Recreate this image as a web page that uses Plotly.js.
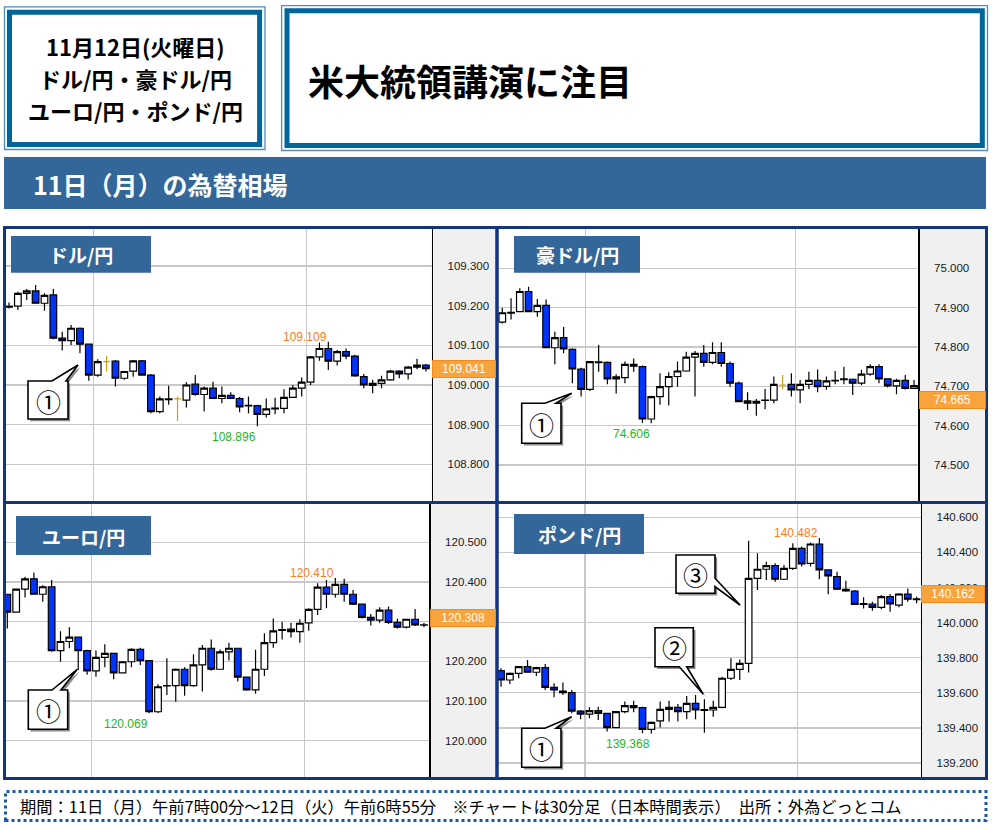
<!DOCTYPE html>
<html><head><meta charset="utf-8">
<script src="https://cdn.plot.ly/plotly-3.0.1.min.js"></script>
<style>html,body{margin:0;padding:0;background:#fff;}#chart{width:992px;height:825px;}</style>
</head><body><div id="chart"></div>
<script>
// ---------- data ----------
const times = ["07:00","07:30","08:00","08:30","09:00","09:30","10:00","10:30","11:00","11:30","12:00","12:30",
"13:00","13:30","14:00","14:30","15:00","15:30","16:00","16:30","17:00","17:30","18:00","18:30",
"19:00","19:30","20:00","20:30","21:00","21:30","22:00","22:30","23:00","23:30","00:00","00:30",
"01:00","01:30","02:00","02:30","03:00","03:30","04:00","04:30","05:00","05:30","06:00","06:30"];

const pairNames = ["ドル/円","豪ドル/円","ユーロ/円","ポンド/円"];
const lastPrices = [109.041, 74.665, 120.308, 140.162];
const highMarks = [109.109, null, 120.410, 140.482];
const lowMarks = [108.896, 74.606, 120.069, 139.368];

const usdOpen = [109.196,109.199,109.231,109.237,109.206,109.227,109.118,109.112,109.143,109.103,109.025,109.059,109.060,109.017,109.035,109.061,109.025,108.933,108.963,108.965,108.962,109.002,108.976,108.992,108.966,108.974,108.966,108.949,108.948,108.926,108.940,108.941,108.969,108.992,109.007,109.071,109.092,109.060,109.084,109.073,109.021,108.999,109.004,109.013,109.035,109.028,109.045,109.050];
const usdHigh = [109.208,109.235,109.242,109.252,109.231,109.242,109.134,109.151,109.145,109.104,109.065,109.074,109.063,109.036,109.063,109.063,109.028,108.971,108.998,108.971,109.007,109.025,108.996,109.008,108.996,108.982,108.970,108.971,108.950,108.966,108.968,108.989,109.000,109.019,109.073,109.107,109.109,109.088,109.092,109.076,109.028,109.013,109.023,109.038,109.037,109.048,109.066,109.053];
const usdLow = [109.193,109.189,109.214,109.205,109.187,109.115,109.087,109.101,109.080,109.011,109.021,109.034,108.996,109.013,109.021,109.024,108.929,108.929,108.950,108.909,108.943,108.973,108.933,108.966,108.954,108.965,108.931,108.929,108.896,108.918,108.926,108.929,108.968,108.971,109.000,109.061,109.038,109.049,109.065,109.021,108.992,108.979,108.992,109.011,109.017,109.014,109.040,109.034];
const usdClose = [109.198,109.231,109.237,109.206,109.226,109.118,109.112,109.143,109.103,109.025,109.059,109.059,109.017,109.034,109.061,109.025,108.933,108.965,108.965,108.965,109.000,108.976,108.992,108.966,108.974,108.966,108.945,108.947,108.926,108.940,108.942,108.969,108.992,109.007,109.071,109.092,109.060,109.084,109.073,109.023,109.000,109.004,109.013,109.035,109.028,109.045,109.050,109.041];

const audOpen = [74.863,74.886,74.890,74.941,74.890,74.906,74.798,74.824,74.794,74.744,74.692,74.760,74.761,74.719,74.722,74.756,74.750,74.617,74.674,74.699,74.725,74.739,74.774,74.784,74.761,74.786,74.758,74.708,74.663,74.657,74.664,74.665,74.703,74.705,74.691,74.705,74.715,74.700,74.714,74.717,74.718,74.708,74.731,74.750,74.719,74.701,74.715,74.695];
const audHigh = [74.900,74.924,74.949,74.953,74.922,74.921,74.839,74.851,74.797,74.747,74.764,74.805,74.763,74.731,74.763,74.771,74.753,74.676,74.733,74.736,74.763,74.788,74.790,74.805,74.812,74.812,74.763,74.712,74.685,74.668,74.693,74.725,74.729,74.733,74.716,74.737,74.743,74.725,74.739,74.750,74.720,74.742,74.756,74.756,74.720,74.719,74.729,74.716];
const audLow = [74.860,74.870,74.888,74.890,74.877,74.797,74.756,74.784,74.708,74.674,74.688,74.737,74.705,74.682,74.708,74.737,74.607,74.606,74.653,74.651,74.699,74.737,74.674,74.750,74.756,74.750,74.699,74.661,74.640,74.625,74.642,74.657,74.693,74.674,74.657,74.693,74.685,74.691,74.705,74.705,74.678,74.703,74.727,74.708,74.697,74.680,74.692,74.693];
const audClose = [74.887,74.888,74.941,74.890,74.906,74.798,74.824,74.795,74.744,74.692,74.763,74.762,74.719,74.724,74.756,74.751,74.617,74.674,74.699,74.725,74.739,74.774,74.784,74.761,74.786,74.758,74.708,74.661,74.657,74.662,74.665,74.705,74.703,74.691,74.705,74.715,74.699,74.714,74.715,74.719,74.708,74.731,74.750,74.719,74.701,74.715,74.695,74.702];

const eurOpen = [120.369,120.324,120.382,120.408,120.369,120.388,120.227,120.250,120.261,120.227,120.176,120.210,120.220,120.171,120.199,120.230,120.202,120.073,120.138,120.139,120.180,120.139,120.191,120.233,120.180,120.224,120.233,120.160,120.128,120.180,120.247,120.278,120.281,120.275,120.297,120.331,120.387,120.369,120.394,120.369,120.344,120.311,120.304,120.329,120.298,120.286,120.306,120.291];
const eurHigh = [120.369,120.383,120.413,120.424,120.392,120.405,120.276,120.286,120.262,120.229,120.227,120.243,120.221,120.201,120.233,120.234,120.203,120.142,120.208,120.182,120.185,120.218,120.241,120.255,120.230,120.247,120.234,120.161,120.229,120.271,120.308,120.300,120.297,120.306,120.334,120.397,120.405,120.410,120.408,120.380,120.344,120.319,120.336,120.338,120.307,120.307,120.332,120.297];
const eurLow = [120.283,120.323,120.361,120.368,120.350,120.224,120.199,120.233,120.178,120.166,120.161,120.185,120.155,120.170,120.185,120.191,120.069,120.070,120.115,120.098,120.113,120.136,120.124,120.176,120.179,120.202,120.149,120.126,120.118,120.163,120.234,120.255,120.260,120.247,120.277,120.317,120.334,120.361,120.350,120.342,120.308,120.290,120.297,120.294,120.283,120.283,120.289,120.286];
const eurClose = [120.324,120.382,120.408,120.369,120.388,120.227,120.250,120.261,120.227,120.176,120.210,120.220,120.171,120.199,120.230,120.202,120.073,120.136,120.139,120.180,120.139,120.191,120.233,120.180,120.224,120.233,120.160,120.128,120.180,120.247,120.277,120.280,120.275,120.296,120.331,120.387,120.369,120.394,120.369,120.344,120.311,120.304,120.329,120.298,120.286,120.306,120.292,120.292];

const gbpOpen = [139.726,139.673,139.711,139.749,139.717,139.743,139.631,139.610,139.601,139.496,139.479,139.498,139.483,139.402,139.493,139.527,139.515,139.392,139.440,139.506,139.517,139.493,139.540,139.500,139.502,139.517,139.683,139.734,139.768,140.252,140.304,140.325,140.247,140.309,140.423,140.338,140.448,140.300,140.262,140.190,140.180,140.104,140.106,140.087,140.148,140.100,140.163,140.131];
const gbpHigh = [139.740,139.715,139.753,139.787,139.749,139.764,139.654,139.658,139.616,139.502,139.517,139.521,139.487,139.496,139.550,139.555,139.521,139.436,139.550,139.555,139.536,139.582,139.588,139.563,139.555,139.692,139.797,139.790,140.467,140.395,140.347,140.338,140.328,140.452,140.433,140.456,140.482,140.304,140.290,140.239,140.186,140.144,140.119,140.157,140.163,140.167,140.195,140.148];
const gbpLow = [139.635,139.650,139.683,139.715,139.696,139.616,139.574,139.588,139.483,139.449,139.455,139.445,139.379,139.401,139.483,139.489,139.370,139.368,139.402,139.436,139.436,139.449,139.449,139.372,139.464,139.512,139.673,139.673,139.715,140.186,140.243,140.233,140.243,140.300,140.319,140.319,140.247,140.161,140.186,140.176,140.100,140.081,140.068,140.076,140.062,140.087,140.119,140.110];
const gbpClose = [139.673,139.711,139.749,139.717,139.743,139.631,139.616,139.601,139.496,139.479,139.498,139.483,139.402,139.493,139.527,139.515,139.392,139.432,139.506,139.517,139.493,139.540,139.502,139.504,139.517,139.683,139.734,139.768,140.252,140.304,140.325,140.247,140.309,140.423,140.334,140.448,140.300,140.266,140.190,140.180,140.104,140.108,140.087,140.148,140.106,140.163,140.133,140.135];

// ---------- layout helpers ----------
const W = 992, H = 825;
const px = x => x / W, py = y => 1 - y / H;
const NUM = "Liberation Sans, Arial, sans-serif";
const JP = "Noto Sans CJK JP, sans-serif";
const DOWN = "#0033ff", GOLD = "#c8a014", GRID = "#c8c8c8";

const panels = [
  {o:usdOpen,h:usdHigh,l:usdLow,c:usdClose,dtick:0.1,plot:[5,229,431.7,501],yr:[108.7076,109.3932],xr:[-0.451,47.655],right:495.5,frame:[4.5,227.5,497,502.5],label:[11,236,151,272.7]},
  {o:audOpen,h:audHigh,l:audLow,c:audClose,dtick:0.1,plot:[498,229,918.3,501],yr:[74.4085,75.0999],xr:[-0.49,47.49],right:985,frame:[497,227.5,986.5,502.5],label:[514,236,640,272.7]},
  {o:eurOpen,h:eurHigh,l:eurLow,c:eurClose,dtick:0.1,plot:[5,504,429.3,777],yr:[119.9085,120.5965],xr:[-0.26,47.60],right:495.5,frame:[4.5,502.5,497,778.5],label:[16,516,151,555]},
  {o:gbpOpen,h:gbpHigh,l:gbpLow,c:gbpClose,dtick:0.2,plot:[498,504,920.7,777],yr:[139.1202,140.6758],xr:[-0.34,47.46],right:985,frame:[497,502.5,986.5,778.5],label:[514,514,644,554]}
];

const shapes = [], annotations = [], traces = [];
function rect(x0,y0,x1,y1,opt){
  shapes.push(Object.assign({type:'rect',xref:'paper',yref:'paper',x0:px(x0),x1:px(x1),y0:py(y1),y1:py(y0),
    line:{width:0},fillcolor:'rgba(0,0,0,0)',layer:'above'},opt));
}
function pathOf(pts){ return 'M' + pts.map(p => px(p[0]).toFixed(5)+','+py(p[1]).toFixed(5)).join('L') + 'Z'; }
function callout(pts, cx, cy, label){
  const sh = pts.map(p => [p[0]+2.2, p[1]+2.2]);
  shapes.push({type:'path',xref:'paper',yref:'paper',path:pathOf(sh),fillcolor:'#8c8c8c',line:{width:0},layer:'above'});
  shapes.push({type:'path',xref:'paper',yref:'paper',path:pathOf(pts),fillcolor:'#ffffff',line:{color:'#000',width:1.6},layer:'above'});
  annotations.push({xref:'paper',yref:'paper',x:px(cx),y:py(cy),text:label,showarrow:false,xanchor:'center',yanchor:'middle',
    font:{family:JP,size:25,color:'#000'}});
}
function topWedge(x0,y0,x1,y1,b1,b2,ax,ay){ return [[x0,y0],[b1,y0],[ax,ay],[b2,y0],[x1,y0],[x1,y1],[x0,y1]]; }
function text(x,y,t,size,color,anchor,weight){
  annotations.push({xref:'paper',yref:'paper',x:px(x),y:py(y),text:t,showarrow:false,xanchor:anchor||'center',yanchor:'middle',
    font:{family:JP,size:size,color:color,weight:weight||'bold'}});
}

// ---------- header ----------
rect(4.5,6.8,265,149.5,{line:{color:'#4d8cc0',width:1.3}});
rect(9.5,12.3,259.6,144.5,{line:{color:'#006699',width:5}});
rect(281.6,5.6,987.5,150.5,{line:{color:'#4d8cc0',width:1.3}});
rect(287,10.8,982.3,145.5,{line:{color:'#006699',width:5}});
text(135,46,'11月12日(火曜日)',22,'#000');
text(135,78,'ドル/円・豪ドル/円',22,'#000');
text(135,110,'ユーロ/円・ポンド/円',22,'#000');
text(306,80,'米大統領講演に注目',36,'#000','left');
rect(4,157,986,209,{fillcolor:'#336699',layer:'below'});
text(31,184,'11日（月）の為替相場',25,'#ffffff','left');

// ---------- panels ----------
const layout = {width:W,height:H,margin:{l:0,r:0,t:0,b:0},paper_bgcolor:'#fff',plot_bgcolor:'#fff',
  showlegend:false,boxgap:0.25,boxgroupgap:0,boxmode:'overlay',dragmode:false};

panels.forEach((p,k) => {
  const s = k === 0 ? '' : String(k+1);
  const xs = times.map((t,i) => i);
  layout['xaxis'+s] = {domain:[px(p.plot[0]),px(p.plot[2])],range:p.xr,anchor:'y'+s,type:'linear',
    tickvals:[9.5,33.5],showticklabels:false,showgrid:true,gridcolor:GRID,gridwidth:1.2,zeroline:false,
    showline:false,ticks:'',rangeslider:{visible:false},fixedrange:true};
  layout['yaxis'+s] = {domain:[py(p.plot[3]),py(p.plot[1])],range:p.yr,anchor:'x'+s,side:'right',
    dtick:p.dtick,tick0:0,tickformat:'.3f',showgrid:true,gridcolor:GRID,gridwidth:1.2,zeroline:false,
    showline:true,linecolor:'#000',linewidth:1.5,ticks:'',ticklabelstandoff:12,
    tickfont:{family:NUM,size:11.5,color:'#1a1a1a'},fixedrange:true};
  // axis background
  rect(p.plot[2],p.frame[1],p.frame[2],p.frame[3],{fillcolor:'#f0f0f0',layer:'below'});

  const norm = [], flat = [];
  p.o.forEach((v,i) => (v === p.c[i] ? flat : norm).push(i));
  const pick = (arr, idx) => idx.map(i => arr[i]);
  traces.push({type:'candlestick',xaxis:'x'+s,yaxis:'y'+s,x:pick(xs,norm),open:pick(p.o,norm),high:pick(p.h,norm),
    low:pick(p.l,norm),close:pick(p.c,norm),text:pick(times,norm),whiskerwidth:0,
    increasing:{line:{color:'#000',width:1.2},fillcolor:'#ffffff'},
    decreasing:{line:{color:'#000',width:1.2},fillcolor:DOWN},showlegend:false});
  if (flat.length) traces.push({type:'candlestick',xaxis:'x'+s,yaxis:'y'+s,x:pick(xs,flat),open:pick(p.o,flat),
    high:pick(p.h,flat),low:pick(p.l,flat),close:pick(p.c,flat),text:pick(times,flat),whiskerwidth:0,
    increasing:{line:{color:GOLD,width:1.2},fillcolor:GOLD},decreasing:{line:{color:GOLD,width:1.2},fillcolor:GOLD},showlegend:false});

  // high / low marks
  if (highMarks[k] !== null) {
    const i = p.h.indexOf(highMarks[k]);
    annotations.push({xref:'x'+s,yref:'y'+s,x:i,y:p.h[i],text:p.h[i].toFixed(3),showarrow:false,xanchor:'right',
      yanchor:'middle',yshift:5,xshift:1,font:{family:NUM,size:12,color:'#ff7b1c'}});
  }
  if (lowMarks[k] !== null) {
    const i = p.l.indexOf(lowMarks[k]);
    annotations.push({xref:'x'+s,yref:'y'+s,x:i,y:p.l[i],text:p.l[i].toFixed(3),showarrow:false,xanchor:'right',
      yanchor:'middle',yshift:-10.5,xshift:1,font:{family:NUM,size:12,color:'#1fb41f'}});
  }
  // current price tag
  const tw = p.right - p.plot[2];
  annotations.push({xref:'paper',yref:'y'+s,x:px(p.plot[2]+0.5),y:lastPrices[k],xanchor:'left',yanchor:'middle',
    text:lastPrices[k].toFixed(3),showarrow:false,bgcolor:'#f8a33c',bordercolor:'#f28a1e',borderwidth:1,borderpad:1,
    width:tw-4,height:14,align:'center',font:{family:NUM,size:12,color:'#ffffff'}});

  // panel frame and label
  rect(p.frame[0],p.frame[1],p.frame[2],p.frame[3],{line:{color:'#12357e',width:3}});
  rect(p.label[0],p.label[1],p.label[2],p.label[3],{fillcolor:'#336699'});
  text((p.label[0]+p.label[2])/2,(p.label[1]+p.label[3])/2+0.5,pairNames[k],19,'#ffffff');
});

// ---------- callouts ----------
callout(topWedge(28,381,68,419,52,66,78,365),48,401,'①');
callout(topWedge(521.7,403.3,561,443.3,545,556,571.7,393.3),541.5,424,'①');
callout(topWedge(28.3,690,67.7,729.3,52,61,77.3,669.3),48,710,'①');
callout(topWedge(521.7,728.3,561,767.3,545,556,571.7,716.7),541.5,748,'①');
callout([[655,627.7],[693.3,627.7],[693.3,666.7],[686.7,666.7],[703.3,694.3],[679.3,666.7],[655,666.7]],674,647,'②');
callout([[676,555],[715,555],[715,578.3],[740,605],[715,586.7],[715,593.3],[676,593.3]],695.5,574,'③');

// ---------- footer ----------
rect(5.5,791.5,986,820.5,{line:{color:'#1a5a9c',width:3,dash:'dot'}});
text(18,805.5,'期間：11日（月）午前7時00分～12日（火）午前6時55分　※チャートは30分足（日本時間表示）　出所：外為どっとコム',16.3,'#000','left','normal');

layout.shapes = shapes;
layout.annotations = annotations;
Plotly.newPlot('chart', traces, layout, {staticPlot:true, displayModeBar:false});
</script></body></html>
